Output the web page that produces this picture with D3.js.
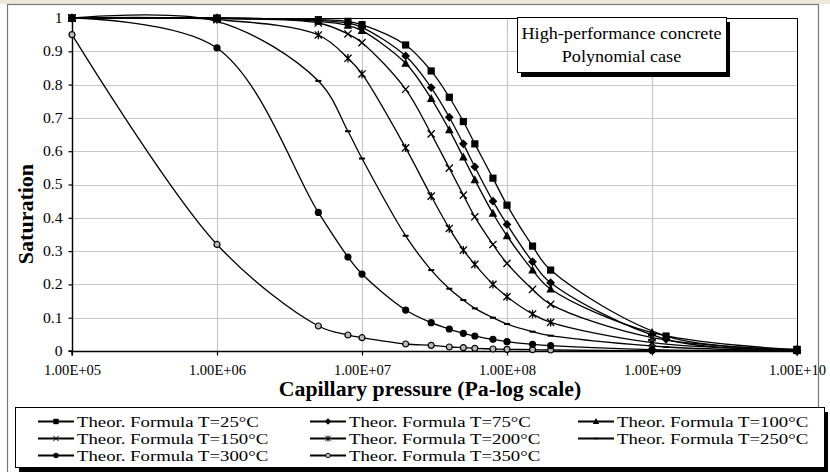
<!DOCTYPE html>
<html>
<head>
<meta charset="utf-8">
<script src="https://cdn.jsdelivr.net/npm/d3@7/dist/d3.min.js"></script>
<style>
  html, body { margin: 0; padding: 0; background: #fff; }
  svg { display: block; }
  text { font-family: "Liberation Serif", "Times New Roman", serif; fill: #000; }
</style>
</head>
<body>
<svg id="chart" width="830" height="472"></svg>
<script>
// ---- data ----
const temperatures = ["25", "75", "100", "150", "200", "250", "300", "350"];
const markerKinds  = ["square", "diamond", "triangle", "times", "asterisk", "dash", "dot", "ring"];

// capillary pressure (Pa) shared by all curves except the last-but-one point
const pressure = [1e5, 1e6, 5e6, 8e6, 1e7, 2e7, 3e7, 4e7, 5e7, 6e7, 8e7, 1e8, 1.5e8, 2e8];
const tailPressure = [1.25e9, 1.25e9, 1e9, 1e9, 1e9, 1.25e9, 1e9, 1e9];
const endPressure = 1e10;

const sat25  = [1, 1, 0.995, 0.99, 0.98, 0.919, 0.841, 0.762, 0.689, 0.622, 0.519, 0.438, 0.315, 0.243, 0.045, 0.005];
const sat75  = [1, 1, 0.993, 0.985, 0.972, 0.886, 0.791, 0.702, 0.622, 0.553, 0.45, 0.38, 0.268, 0.205, 0.035, 0.004];
const sat100 = [1, 1, 0.99, 0.978, 0.962, 0.864, 0.758, 0.664, 0.582, 0.514, 0.413, 0.346, 0.243, 0.186, 0.055, 0.004];
const sat150 = [1, 0.998, 0.985, 0.952, 0.926, 0.786, 0.652, 0.549, 0.468, 0.403, 0.32, 0.263, 0.185, 0.14, 0.04, 0.003];
const sat200 = [1, 0.995, 0.949, 0.879, 0.832, 0.61, 0.465, 0.368, 0.303, 0.26, 0.2, 0.163, 0.111, 0.086, 0.025, 0.002];
const sat250 = [1, 0.99, 0.811, 0.66, 0.578, 0.346, 0.243, 0.187, 0.153, 0.128, 0.1, 0.081, 0.058, 0.046, 0.012, 0.001];
const sat300 = [1, 0.91, 0.416, 0.282, 0.231, 0.123, 0.085, 0.066, 0.053, 0.045, 0.035, 0.028, 0.02, 0.016, 0.004, 0];
const sat350 = [0.95, 0.32, 0.075, 0.048, 0.04, 0.021, 0.017, 0.012, 0.01, 0.008, 0.006, 0.005, 0.004, 0.003, 0.001, 0];
const saturation = [sat25, sat75, sat100, sat150, sat200, sat250, sat300, sat350];

const xTickValues = [1e5, 1e6, 1e7, 1e8, 1e9, 1e10];
const xTickLabels = ["1.00E+05", "1.00E+06", "1.00E+07", "1.00E+08", "1.00E+09", "1.00E+10"];
const yTickValues = [0, 0.1, 0.2, 0.3, 0.4, 0.5, 0.6, 0.7, 0.8, 0.9, 1];
const yTickLabels = ["0", "0.1", "0.2", "0.3", "0.4", "0.5", "0.6", "0.7", "0.8", "0.9", "1"];

const xTitle = "Capillary pressure (Pa-log scale)";
const yTitle = "Saturation";
const boxLines = ["High-performance concrete", "Polynomial case"];

// ---- layout ----
const svg = d3.select("#chart");
const plot = { left: 72, right: 797, top: 18, bottom: 351 };

const x = d3.scaleLog().domain([1e5, 1e10]).range([plot.left, plot.right]);
const y = d3.scaleLinear().domain([0, 1]).range([plot.bottom, plot.top]);

// widen a text element horizontally by factor k
function stretch(sel, k) {
  sel.each(function () {
    const w = this.getComputedTextLength();
    d3.select(this).attr("textLength", (w * k).toFixed(1)).attr("lengthAdjust", "spacingAndGlyphs");
  });
}

// window strip and chart frame
svg.append("rect").attr("x", 0).attr("y", 0).attr("width", 830).attr("height", 4).attr("fill", "#ece9d8");
svg.append("rect").attr("x", 7.5).attr("y", 4.5).attr("width", 811).attr("height", 480)
  .attr("fill", "#fff").attr("stroke", "#777").attr("stroke-width", 1.2);

// gridlines
const grid = svg.append("g");
grid.selectAll("line.h").data(yTickValues).join("line")
  .attr("x1", plot.left).attr("x2", plot.right)
  .attr("y1", d => Math.round(y(d)) + 0.5).attr("y2", d => Math.round(y(d)) + 0.5)
  .attr("stroke", "#c8c8c8").attr("stroke-width", 1.2);
grid.selectAll("line.v").data(xTickValues).join("line")
  .attr("y1", plot.top).attr("y2", plot.bottom)
  .attr("x1", d => Math.round(x(d)) + 0.5).attr("x2", d => Math.round(x(d)) + 0.5)
  .attr("stroke", "#c8c8c8").attr("stroke-width", 1.2);

// plot border (top/right)
svg.append("path")
  .attr("d", `M${plot.left},${plot.top + 0.5}H${plot.right + 0.5}V${plot.bottom}`)
  .attr("fill", "none").attr("stroke", "#000").attr("stroke-width", 1);

// axes
const yAxis = svg.append("g").attr("transform", `translate(${plot.left + 0.5},0)`)
  .call(d3.axisLeft(y).tickValues(yTickValues).tickSize(4).tickPadding(6)
    .tickFormat((d, i) => yTickLabels[i]));
const xAxis = svg.append("g").attr("transform", `translate(0,${plot.bottom + 0.5})`)
  .call(d3.axisBottom(x).tickValues(xTickValues).tickSize(4).tickPadding(10)
    .tickFormat((d, i) => xTickLabels[i]));
[yAxis, xAxis].forEach(a => {
  a.select(".domain").attr("stroke", "#000").attr("stroke-width", 1.4);
  a.selectAll(".tick line").attr("stroke", "#000").attr("stroke-width", 1.2);
  a.selectAll("text").attr("font-family", "Liberation Serif").attr("font-size", 14).attr("fill", "#000");
});
stretch(yAxis.selectAll("text"), 1.12);
stretch(xAxis.selectAll("text"), 1.04);
yAxis.select(".domain").attr("d", `M-4,${y(1)}H0V${y(0)}H-4`);
xAxis.select(".domain").attr("d", `M${x(1e5)},4V0H${x(1e10)}V4`);

// axis titles
svg.append("text").attr("x", 430).attr("y", 396).attr("text-anchor", "middle")
  .attr("font-size", 20).attr("font-weight", "bold").text(xTitle)
  .call(stretch, 1.09);
svg.append("text").attr("transform", "translate(33,214) rotate(-90)").attr("text-anchor", "middle")
  .attr("font-size", 22).attr("font-weight", "bold").text(yTitle);

// ---- markers ----
function drawMarker(g, kind, cx, cy, scale) {
  const s = scale || 1;
  const m = g.append("g").attr("transform", `translate(${cx},${cy}) scale(${s})`);
  switch (kind) {
    case "square":
      m.append("rect").attr("x", -3.6).attr("y", -3.6).attr("width", 7.2).attr("height", 7.2).attr("fill", "#000");
      break;
    case "diamond":
      m.append("path").attr("d", "M0,-4.4L4.4,0L0,4.4L-4.4,0Z").attr("fill", "#000");
      break;
    case "triangle":
      m.append("path").attr("d", "M0,-4.6L4.3,3.4H-4.3Z").attr("fill", "#000");
      break;
    case "times":
      m.append("path").attr("d", "M-3.6,-3.6L3.6,3.6M-3.6,3.6L3.6,-3.6")
        .attr("stroke", "#000").attr("stroke-width", 1.3).attr("fill", "none");
      break;
    case "asterisk":
      m.append("path").attr("d", "M-3.6,-3.6L3.6,3.6M-3.6,3.6L3.6,-3.6M0,-4.2V4.2")
        .attr("stroke", "#000").attr("stroke-width", 1.3).attr("fill", "none");
      break;
    case "dash":
      m.append("path").attr("d", "M-3,0H3").attr("stroke", "#000").attr("stroke-width", 2).attr("fill", "none");
      break;
    case "dot":
      m.append("circle").attr("r", 3.6).attr("fill", "#000");
      break;
    case "ring":
      m.append("circle").attr("r", 3).attr("fill", "#bbb").attr("stroke", "#000").attr("stroke-width", 1.2);
      break;
  }
}

// ---- curves ----
const line = d3.line().x(d => x(d.p)).y(d => y(d.s)).curve(d3.curveCatmullRom.alpha(0.5));
const series = temperatures.map((t, i) => ({
  temp: t,
  kind: markerKinds[i],
  points: pressure.concat([tailPressure[i], endPressure]).map((p, j) => ({ p, s: saturation[i][j] }))
}));

const curves = svg.append("g");
series.forEach(sr => {
  curves.append("path").attr("d", line(sr.points))
    .attr("fill", "none").attr("stroke", "#000").attr("stroke-width", 1.3);
});
const marks = svg.append("g");
series.slice().reverse().forEach(sr => {
  sr.points.forEach(pt => drawMarker(marks, sr.kind, x(pt.p), y(pt.s)));
});

// ---- annotation box ----
const box = { x: 517, y: 17, w: 209, h: 55 };
svg.append("rect").attr("x", box.x + 4).attr("y", box.y + 5).attr("width", box.w).attr("height", box.h).attr("fill", "#000");
svg.append("rect").attr("x", box.x + 0.5).attr("y", box.y + 0.5).attr("width", box.w).attr("height", box.h)
  .attr("fill", "#fff").attr("stroke", "#000").attr("stroke-width", 1);
boxLines.forEach((txt, i) => {
  svg.append("text").attr("x", box.x + box.w / 2).attr("y", 38.5 + i * 23)
    .attr("text-anchor", "middle").attr("font-size", 16.5).text(txt)
    .call(stretch, 1.1);
});

// ---- legend ----
const legend = { x: 15, y: 407, w: 809, h: 60 };
svg.append("rect").attr("x", legend.x + 4).attr("y", legend.y + 5).attr("width", legend.w).attr("height", legend.h).attr("fill", "#000");
svg.append("rect").attr("x", legend.x + 0.5).attr("y", legend.y + 0.5).attr("width", legend.w).attr("height", legend.h)
  .attr("fill", "#fff").attr("stroke", "#000").attr("stroke-width", 1);
const colX = [38, 310, 578];
const rowY = [421.5, 438.5, 455.5];
series.forEach((sr, i) => {
  const cx = colX[i % 3], cy = rowY[Math.floor(i / 3)];
  const g = svg.append("g");
  g.append("line").attr("x1", cx).attr("x2", cx + 36).attr("y1", cy).attr("y2", cy)
    .attr("stroke", "#000").attr("stroke-width", 2);
  drawMarker(g, sr.kind, cx + 18, cy, 0.75);
  g.append("text").attr("x", cx + 39).attr("y", cy + 5).attr("font-size", 15)
    .text(`Theor. Formula T=${sr.temp}°C`)
    .call(stretch, 1.25);
});
</script>
</body>
</html>
